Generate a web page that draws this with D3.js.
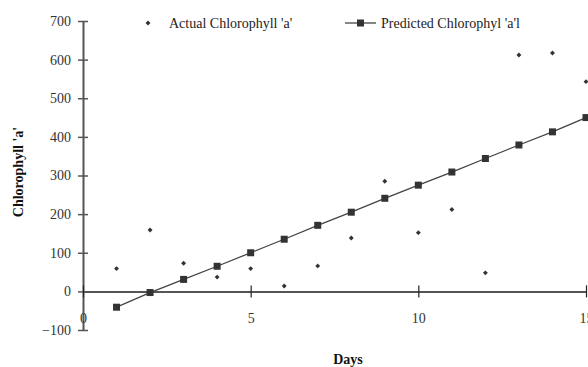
<!DOCTYPE html>
<html>
<head>
<meta charset="utf-8">
<script src="https://cdn.jsdelivr.net/npm/d3@7"></script>
<style>
  body { margin: 0; background: #fff; }
  svg { display: block; font-family: "Liberation Serif", "Times New Roman", serif; }
</style>
</head>
<body>
<main></main>
<script>
const days = [1, 2, 3, 4, 5, 6, 7, 8, 9, 10, 11, 12, 13, 14, 15];
const actual = [59, 159, 73, 37, 59, 14, 66, 138, 285, 152, 212, 48, 612, 617, 543];
const predicted = [-41, -3, 31, 65, 100, 135, 171, 205, 241, 275, 309, 344, 379, 413, 450];
const yTicks = [-100, 0, 100, 200, 300, 400, 500, 600, 700];
const xTicks = [0, 5, 10, 15];

const WIDTH = 588, HEIGHT = 367;
const FONT = "Liberation Serif, serif";

const svg = d3.select("main").append("svg")
    .attr("width", WIDTH)
    .attr("height", HEIGHT);

const xScale = d3.scaleLinear().domain([0, 15]).range([83, 586]);
const yScale = d3.scaleLinear().domain([-100, 700]).range([330, 21]);

// y axis
const yAxis = d3.axisLeft(yScale).tickValues(yTicks).tickSize(5).tickSizeOuter(0);
const gy = svg.append("g")
    .attr("transform", `translate(${xScale(0)},0)`)
    .call(yAxis)
    .attr("font-family", FONT);
gy.select(".domain").attr("stroke", "#555").attr("stroke-width", 2);
gy.selectAll(".tick line").attr("stroke", "#555").attr("stroke-width", 1.5).attr("x2", 5).attr("x1", -5);
gy.selectAll(".tick text")
    .attr("x", -12)
    .attr("font-size", 14)
    .attr("fill", "#333");

// x axis at y=0
const xAxis = d3.axisBottom(xScale).tickValues(xTicks).tickSize(0).tickSizeOuter(0);
const gx = svg.append("g")
    .attr("transform", `translate(0,${yScale(0)})`)
    .call(xAxis)
    .attr("font-family", FONT);
gx.select(".domain").attr("stroke", "#555").attr("stroke-width", 2);
gx.selectAll(".tick line").attr("stroke", "#222").attr("stroke-width", 1.2).attr("y1", -6).attr("y2", 6);
gx.selectAll(".tick text")
    .attr("y", 22)
    .attr("font-size", 14)
    .attr("fill", "#333");

// axis titles
svg.append("text")
    .attr("transform", `translate(23,172) rotate(-90)`)
    .attr("text-anchor", "middle")
    .attr("font-weight", "bold")
    .attr("font-size", 14)
    .attr("fill", "#111")
    .text("Chlorophyll 'a'");

svg.append("text")
    .attr("x", 348)
    .attr("y", 364)
    .attr("text-anchor", "middle")
    .attr("font-weight", "bold")
    .attr("font-size", 14)
    .attr("fill", "#111")
    .text("Days");

// predicted line
const line = d3.line()
    .x((d, i) => xScale(days[i]))
    .y(d => yScale(d));

svg.append("path")
    .datum(predicted)
    .attr("d", line)
    .attr("fill", "none")
    .attr("stroke", "#444")
    .attr("stroke-width", 1.3);

svg.selectAll(".pred")
    .data(predicted)
    .enter().append("rect")
    .attr("class", "pred")
    .attr("x", (d, i) => xScale(days[i]) - 3.5)
    .attr("y", d => yScale(d) - 3.5)
    .attr("width", 7)
    .attr("height", 7)
    .attr("fill", "#333");

// actual points: small diamonds
const diamond = d3.symbol().type(d3.symbolSquare).size(12);
svg.selectAll(".act")
    .data(actual)
    .enter().append("path")
    .attr("class", "act")
    .attr("d", diamond)
    .attr("transform", (d, i) => `translate(${xScale(days[i])},${yScale(d)}) rotate(45)`)
    .attr("fill", "#333");

// legend
const legend = svg.append("g").attr("font-family", FONT);
legend.append("path")
    .attr("d", diamond)
    .attr("transform", "translate(148,23) rotate(45)")
    .attr("fill", "#333");
legend.append("text")
    .attr("x", 169)
    .attr("y", 28)
    .attr("font-size", 14)
    .attr("fill", "#222")
    .text("Actual Chlorophyll 'a'");
legend.append("line")
    .attr("x1", 345).attr("x2", 376)
    .attr("y1", 23).attr("y2", 23)
    .attr("stroke", "#444").attr("stroke-width", 1.3);
legend.append("rect")
    .attr("x", 357).attr("y", 19.5)
    .attr("width", 7).attr("height", 7)
    .attr("fill", "#333");
legend.append("text")
    .attr("x", 381)
    .attr("y", 28)
    .attr("font-size", 14)
    .attr("fill", "#222")
    .text("Predicted Chlorophyl 'a'l");
</script>
</body>
</html>
